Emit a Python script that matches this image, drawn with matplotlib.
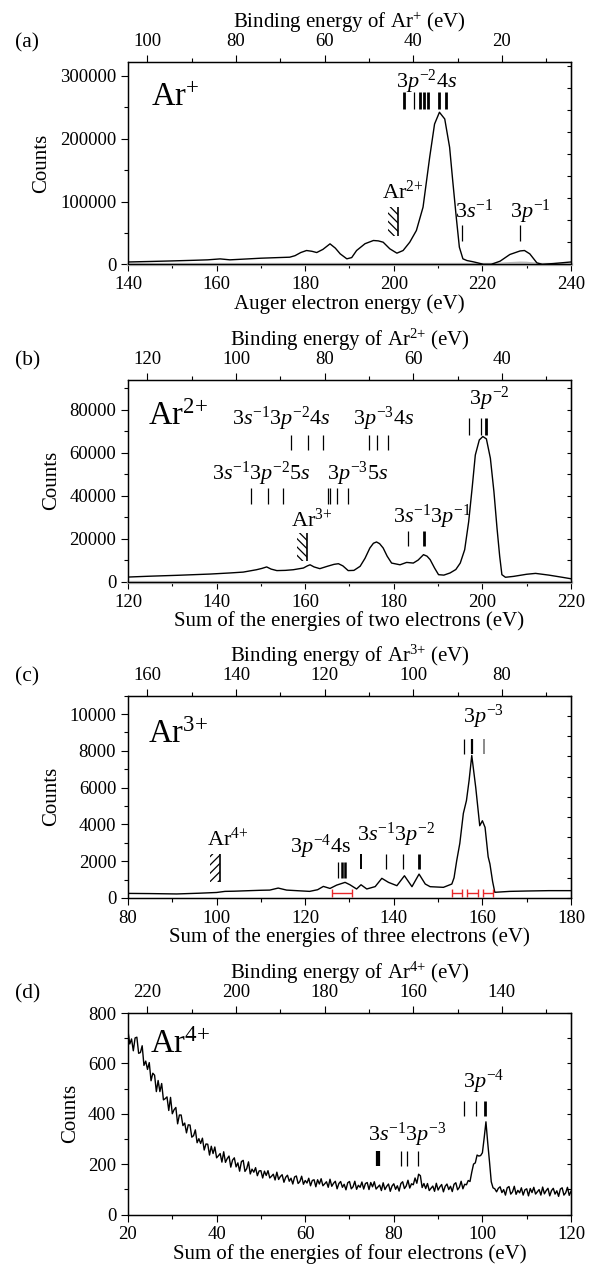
import numpy as np
import matplotlib
matplotlib.use('Agg')
import matplotlib.pyplot as plt
from matplotlib.ticker import MultipleLocator, NullFormatter, StrMethodFormatter
from matplotlib.patches import Rectangle

plt.rcParams['font.family'] = ['Liberation Serif', 'DejaVu Serif']
plt.rcParams['mathtext.fontset'] = 'custom'
plt.rcParams['mathtext.rm'] = 'Liberation Serif'
plt.rcParams['mathtext.it'] = 'Liberation Serif:italic'
plt.rcParams['mathtext.bf'] = 'Liberation Serif:bold'
plt.rcParams['hatch.linewidth'] = 0.9

BE_OFFSET = 244.4  # binding energy = BE_OFFSET - electron energy sum

# ---------------- Panel (a): Ar+ ----------------
energy_a = [140, 145, 150, 155, 158, 160.8, 163, 166, 170, 174,
            176.5, 177.7, 179, 180.3, 181.5, 182.6, 184, 185.6, 186.8, 187.9,
            189.4, 190.5, 191.6, 193.5, 195.4, 196.5, 197.6, 199.1, 200.7, 202.1,
            203.6, 205.1, 206.6, 208.1, 209.2, 210.3, 211.5, 212.6, 213.3, 214.1,
            214.8, 215.6, 216.5, 217.8, 219, 220.2, 222, 224, 226.2, 228.5,
            229.5, 230.7, 232.3, 233.5, 236, 240]
counts_a = [4000, 4800, 5700, 6700, 7400, 8900, 7400, 8500, 10000, 11000,
            11600, 14000, 19000, 22200, 21000, 19000, 24000, 32800, 26000, 16900,
            9000, 11000, 22200, 33000, 38100, 37500, 35400, 24900, 18000, 22200,
            35400, 54000, 91000, 170300, 223000, 241700, 231000, 186000, 133000, 75000,
            27500, 9000, 6300, 4500, 2500, 300, 300, 5300, 15900, 21500,
            22200, 16900, 2600, 300, 1500, 4000]
gray_energy_a = [221, 224, 226.5, 228.5, 230, 231.5, 233.5]
gray_counts_a = [0, 600, 1800, 2500, 2300, 1200, 0]

# ---------------- Panel (b): Ar2+ ----------------
energy_b = [120, 125, 131, 138.6, 143, 146, 149, 150.2, 151.3, 152.3,
            153.6, 155.5, 157.3, 159.6, 160.5, 161.1, 162, 163.3, 165, 166.5,
            167.5, 168.5, 169.7, 171, 172.4, 173.5, 174.6, 175.4, 176.1, 176.8,
            177.6, 178.5, 179.5, 181.4, 182.9, 184.4, 185.5, 186.7, 187.5, 188.2,
            189.2, 190.1, 191.3, 192.7, 194, 195, 196, 196.9, 197.7, 198.4,
            199.3, 200.1, 200.9, 201.8, 202.6, 203.3, 203.9, 204.4, 205.2, 207,
            210, 212, 215, 218, 220]
counts_b = [2300, 2700, 3100, 3700, 4200, 4600, 5700, 6300, 7000, 6000,
            5300, 5400, 5700, 6500, 7500, 8000, 7000, 6200, 7300, 8200,
            8500, 7500, 5300, 5400, 7300, 11000, 15800, 18000, 18600, 17800,
            15800, 12000, 8800, 8000, 9100, 8800, 10200, 12700, 12000, 10400,
            6500, 3400, 3200, 4200, 5800, 8800, 15000, 28000, 44000, 59000,
            66000, 67600, 66500, 57500, 42000, 25000, 12000, 3400, 2200, 2600,
            3600, 4000, 3200, 2200, 1500]

# ---------------- Panel (c): Ar3+ ----------------
energy_c = [80, 85, 91, 96, 100, 101.9, 104, 107.5, 110, 112,
            113.9, 115.8, 118, 121, 122.8, 124.1, 125.6, 127.1, 129, 130.1,
            131.6, 132.6, 133.9, 135.8, 137.3, 138.8, 140.7, 142.4, 144.1, 145.7,
            147.1, 148.2, 151.2, 153.1, 153.6, 154.2, 154.9, 155.7, 156.4, 157.0,
            157.6, 158.5, 159.4, 160.0, 160.6, 161.3, 161.7, 162.3, 162.8, 166.2,
            170, 175, 180]
counts_c = [250, 240, 220, 260, 300, 360, 370, 400, 420, 430,
            540, 430, 400, 360, 450, 630, 520, 700, 850, 720,
            490, 720, 490, 620, 1070, 850, 670, 1210, 615, 1300,
            760, 615, 580, 760, 1100, 2030, 2970, 4600, 5300, 6400,
            7750, 6000, 3930, 4200, 3840, 2240, 1850, 900, 310, 360,
            380, 400, 400]
err_center_c = [128.25, 154.2, 157.7, 161.3]
err_half_c = [2.25, 1.1, 1.2, 1.2]
err_level_c = [250, 250, 250, 250]

# ---------------- Panel (d): Ar4+ (0.4 eV steps from 20 eV) ----------------
d_start, d_step = 20.0, 0.4
counts_d = [728, 677, 697, 650, 701, 704, 640, 643, 670, 592,
            609, 576, 603, 531, 561, 553, 488, 532, 488, 520,
            455, 460, 467, 413, 465, 400, 416, 425, 360, 395,
            395, 353, 363, 324, 356, 355, 307, 313, 336, 285,
            301, 282, 303, 256, 280, 279, 236, 271, 242, 268,
            225, 233, 242, 208, 249, 207, 222, 232, 188, 216,
            225, 189, 205, 172, 210, 215, 171, 182, 209, 161,
            180, 168, 186, 154, 173, 174, 145, 172, 155, 174,
            145, 152, 160, 137, 168, 139, 151, 158, 128, 148,
            156, 132, 144, 121, 149, 153, 123, 131, 152, 120,
            135, 125, 144, 114, 135, 138, 110, 138, 121, 142,
            114, 122, 130, 108, 140, 112, 124, 132, 102, 123,
            131, 108, 120, 98, 126, 131, 102, 110, 132, 100,
            116, 108, 129, 101, 123, 127, 99, 127, 110, 130,
            101, 109, 117, 95, 126, 99, 112, 121, 92, 113,
            122, 100, 114, 93, 123, 130, 103, 113, 136, 105,
            122, 118, 145, 124, 160, 154, 107, 123, 103, 123,
            95, 104, 113, 92, 124, 97, 110, 119, 90, 112,
            121, 99, 112, 91, 120, 126, 98, 108, 132, 102,
            120, 118, 135, 131, 168, 200, 205, 236, 232, 234,
            245, 304, 368, 285, 210, 130, 106, 102, 90, 104,
            110, 87, 99, 77, 106, 111, 81, 90, 112, 80,
            96, 86, 106, 77, 98, 102, 74, 103, 87, 108,
            81, 90, 99, 77, 109, 82, 95, 104, 74, 95,
            104, 81, 94, 72, 101, 106, 77, 86, 108, 76,
            92]
energy_d = d_start + d_step * np.arange(len(counts_d))

# ---------------- annotations ----------------
# level-marker groups: (positions, y_low, y_high, line widths[, colour])
marks_a = [
    ([202.3, 204.5, 206.0, 206.8, 207.8, 210.2, 211.8], 247000, 274000, [2.0, 0.9, 2.0, 2.0, 2.0, 2.0, 2.0]),
    ([215.3], 37000, 62000, [0.9]),
    ([228.5], 37000, 62000, [0.9]),
]
labels_a = [('3$p^{-2}$4$s$', 200.6, 280000), ('3$s^{-1}$', 213.8, 74000),
            ('3$p^{-1}$', 226.2, 74000), ('Ar$^{2{+}}$', 197.3, 104000)]
hatch_a = (201.0, 2.3, 46000, 91000, '\\\\\\\\')

marks_b = [
    ([197.0, 199.6, 200.8], 68400, 76100, [0.9, 0.9, 2.0]),
    ([156.8, 160.7, 164.1], 61400, 68400, [0.9, 0.9, 0.9]),
    ([174.4, 176.2, 178.8], 61400, 68400, [0.9, 0.9, 0.9]),
    ([147.7, 151.7, 155.0], 36200, 43600, [0.9, 0.9, 0.9]),
    ([165.2, 165.7, 167.1, 169.7], 36200, 43600, [0.9, 0.9, 0.9, 0.9]),
    ([183.3, 186.8], 16600, 23800, [0.9, 2.0]),
]
labels_b = [('3$p^{-2}$', 196.9, 82300), ('3$s^{-1}$3$p^{-2}$4$s$', 143.4, 73000),
            ('3$p^{-3}$4$s$', 170.9, 73000), ('3$s^{-1}$3$p^{-2}$5$s$', 139.0, 47500),
            ('3$p^{-3}$5$s$', 164.9, 47500), ('3$s^{-1}$3$p^{-1}$', 179.9, 27400),
            ('Ar$^{3{+}}$', 156.9, 25800)]
hatch_b = (160.5, 2.4, 9600, 22700, '\\\\\\\\')

marks_c = [
    ([155.9, 157.6], 7850, 8650, [0.9, 1.6]),
    ([160.3], 7850, 8650, [1.2], '#777777'),
    ([132.6, 138.2, 142.1, 145.7], 1575, 2390, [1.4, 0.9, 0.9, 2.0]),
    ([127.3, 128.4, 129.0], 1090, 1940, [0.9, 1.8, 1.8]),
]
labels_c = [('3$p^{-3}$', 155.7, 9540), ('3$s^{-1}$3$p^{-2}$', 131.6, 3110),
            ('3$p^{-4}$4s', 116.6, 2480), ('Ar$^{4{+}}$', 97.8, 2840)]
hatch_c = (100.8, 2.3, 850, 2390, '////')

marks_d = [
    ([95.9, 98.6, 100.6], 390, 450, [0.9, 0.9, 2.0]),
    ([76.3, 76.7], 192, 251, [1.6, 1.6]),
    ([81.6, 83.0, 85.5], 192, 251, [0.9, 0.9, 0.9]),
]
labels_d = [('3$p^{-4}$', 95.7, 503), ('3$s^{-1}$3$p^{-3}$', 74.2, 291)]

ion_names = ['Ar$^{+}$', 'Ar$^{2{+}}$', 'Ar$^{3{+}}$', 'Ar$^{4{+}}$']
ion_label_pos = [(145.3, 252000), (124.6, 73000), (84.6, 8450), (25.0, 642)]
panel_tags = ['(a)', '(b)', '(c)', '(d)']
bottom_labels = ['Auger electron energy (eV)',
                 'Sum of the energies of two electrons (eV)',
                 'Sum of the energies of three electrons (eV)',
                 'Sum of the energies of four electrons (eV)']
top_labels = ['Binding energy of Ar$^{+}$ (eV)', 'Binding energy of Ar$^{2{+}}$ (eV)',
              'Binding energy of Ar$^{3{+}}$ (eV)', 'Binding energy of Ar$^{4{+}}$ (eV)']
xlims = [(140, 240), (120, 220), (80, 180), (20, 120)]
ylims = [(0, 321000), (0, 94000), (0, 11000), (0, 800)]
y_major = [100000, 20000, 2000, 200]
y_minor = [50000, 10000, 1000, 100]
right_step = [35000, 10000, 1100, 100]

# ---------------- figure ----------------
W, H = 595, 1266
fig = plt.figure(figsize=(W / 100, H / 100), dpi=100)
panel_px = [(62.3, 264.5), (379.7, 582.0), (695.7, 898.0), (1013.0, 1214.5)]
left_px, right_px = 128.0, 571.0

series = [(energy_a, counts_a), (energy_b, counts_b), (energy_c, counts_c), (energy_d, counts_d)]
all_marks = [marks_a, marks_b, marks_c, marks_d]
all_labels = [labels_a, labels_b, labels_c, labels_d]
all_hatch = [hatch_a, hatch_b, hatch_c, None]

for i in range(4):
    top, bot = panel_px[i]
    ax = fig.add_axes([left_px / W, 1 - bot / H, (right_px - left_px) / W, (bot - top) / H])
    x, y = series[i]
    ax.plot(x, y, color='black', lw=1.0, zorder=3)
    if i == 0:
        ax.plot(gray_energy_a, gray_counts_a, color='#b8b8b8', lw=2.0, zorder=2)
    if i < 2:
        ax.axhline(0, color='#b8b8b8', lw=2.4, zorder=2.6, clip_on=False)
    ax.set_xlim(*xlims[i])
    ax.set_ylim(*ylims[i])

    # level markers
    for grp in all_marks[i]:
        pos, y0, y1, lws = grp[0], grp[1], grp[2], grp[3]
        col = grp[4] if len(grp) > 4 else 'black'
        for p, lw in zip(pos, lws):
            ax.vlines(p, y0, y1, color=col, lw=lw, zorder=4)
    for s, tx, ty in all_labels[i]:
        ax.text(tx, ty, s, fontsize=16, ha='left', va='baseline', zorder=5)
    hx = all_hatch[i]
    if hx is not None:
        xr, wdt, hy0, hy1, pat = hx
        ax.add_patch(Rectangle((xr - wdt, hy0), wdt, hy1 - hy0, fill=False,
                               hatch=pat, edgecolor='black', linewidth=0, zorder=4))
        ax.vlines(xr, hy0, hy1, color='black', lw=1.2, zorder=4)
    if i == 2:
        ax.errorbar(err_center_c, err_level_c, xerr=err_half_c, fmt='none',
                    ecolor='#e8282a', elinewidth=1.0, capsize=3, capthick=1.0, zorder=4)

    ix, iy = ion_label_pos[i]
    ax.text(ix, iy, ion_names[i], fontsize=23.5, ha='left', va='baseline', zorder=5)

    # axes styling
    for sp in ax.spines.values():
        sp.set_linewidth(0.9)
    ax.xaxis.set_major_locator(MultipleLocator(20))
    ax.xaxis.set_minor_locator(MultipleLocator(10))
    ax.yaxis.set_major_locator(MultipleLocator(y_major[i]))
    ax.yaxis.set_minor_locator(MultipleLocator(y_minor[i]))
    ax.yaxis.set_major_formatter(StrMethodFormatter('{x:.0f}'))
    ax.tick_params(which='major', direction='out', length=5, width=0.8, labelsize=13.5, pad=3.5)
    ax.tick_params(which='minor', direction='out', length=3, width=0.8)
    ax.set_xlabel(bottom_labels[i], fontsize=15, labelpad=0.5)
    ax.set_ylabel('Counts', fontsize=15, labelpad=6)

    # binding-energy axis on top
    ax2 = ax.twiny()
    ax2.set_xlim(BE_OFFSET - xlims[i][0], BE_OFFSET - xlims[i][1])
    ax2.xaxis.set_major_locator(MultipleLocator(20))
    ax2.xaxis.set_minor_locator(MultipleLocator(10))
    ax2.tick_params(which='major', direction='out', length=5, width=0.8, labelsize=13.5, pad=3.5)
    ax2.tick_params(which='minor', direction='out', length=3, width=0.8)
    ax2.set_xlabel(top_labels[i], fontsize=15, labelpad=4)
    for sp in ax2.spines.values():
        sp.set_linewidth(0.9)

    sr = ax.secondary_yaxis('right')
    sr.yaxis.set_major_locator(MultipleLocator(right_step[i]))
    sr.yaxis.set_major_formatter(NullFormatter())
    sr.tick_params(direction='in', length=3, width=0.8)

    fig.text(15 / W, 1 - (top - 19) / H, panel_tags[i], fontsize=15.5, ha='left', va='center')

fig.savefig('out.png', dpi=100)
